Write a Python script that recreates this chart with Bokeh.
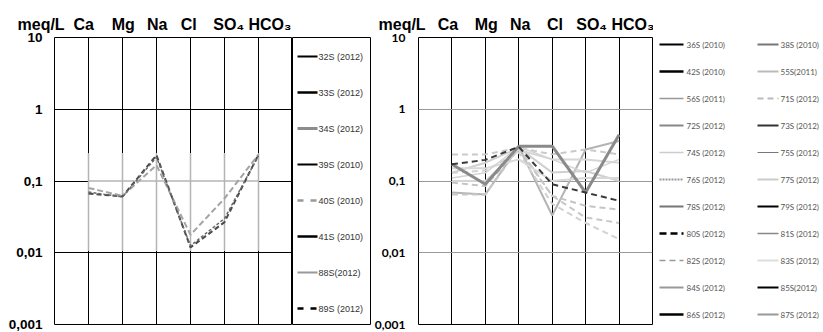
from bokeh.plotting import figure
from bokeh.models import Range1d, FixedTicker, CustomJSTickFormatter
from bokeh.core.properties import value
from bokeh.layouts import row
from bokeh.embed import file_html
from bokeh.resources import INLINE

# ---------------- data ----------------
ION_LABELS = ["Ca", "Mg", "Na", "Cl", "SO\u2084", "HCO\u2083"]
ION_X = [1, 2, 3, 4, 5, 6]
Y_TICKS = [0.001, 0.01, 0.1, 1, 10]
UNIT = "meq/L"

# left diagram (meq/L, order Ca Mg Na Cl SO4 HCO3)
L_89S = [0.0667, 0.061, 0.229, 0.0119, 0.0267, 0.234]
L_40S = [0.080, 0.062, 0.166, 0.0178, 0.057, 0.234]
L_41S = [0.070, 0.060, 0.215, 0.0125, 0.030, 0.225]
LEFT_SERIES = {"89S": L_89S, "40S": L_40S, "41S": L_41S}
LEFT_LABELS = ["32S (2012)", "33S (2012)", "34S (2012)", "39S (2010)",
               "40S (2010)", "41S (2010)", "88S(2012)", "89S (2012)"]

# right diagram
R_78S = [0.171, 0.090, 0.306, 0.306, 0.069, 0.44]
R_80S = [0.171, 0.197, 0.300, 0.090, 0.069, 0.053]
R_71S = [0.235, 0.235, 0.290, 0.235, 0.275, 0.235]
R_56S = [0.069, 0.065, 0.300, 0.033, 0.275, 0.36]
R_82S = [0.095, 0.085, 0.280, 0.062, 0.045, 0.040]
R_83S = [0.130, 0.140, 0.250, 0.048, 0.026, 0.0155]
R_74S = [0.131, 0.180, 0.290, 0.131, 0.138, 0.100]
R_77S = [0.100, 0.100, 0.270, 0.200, 0.200, 0.180]
R_84S = [0.065, 0.065, 0.290, 0.062, 0.031, 0.026]
R_87S = [0.150, 0.150, 0.200, 0.100, 0.110, 0.110]
R_75S = [0.110, 0.130, 0.300, 0.200, 0.130, 0.200]
RIGHT_SERIES = {"71S": R_71S, "56S": R_56S, "82S": R_82S, "83S": R_83S,
                "74S": R_74S, "77S": R_77S, "84S": R_84S, "87S": R_87S,
                "75S": R_75S, "78S": R_78S, "80S": R_80S}
RIGHT_LABELS_COL1 = ["36S (2010)", "42S (2010)", "56S (2011)", "72S (2012)",
                     "74S (2012)", "76S (2012)", "78S (2012)", "80S (2012)",
                     "82S (2012)", "84S (2012)", "86S (2012)"]
RIGHT_LABELS_COL2 = ["38S (2010)", "55S(2011)", "71S (2012)", "73S (2012)",
                     "75S (2012)", "77S (2012)", "79S (2012)", "81S (2012)",
                     "83S (2012)", "85S(2012)", "87S (2012)"]

# ---------------- styles ----------------
LEFT_LINE_STYLE = {
    "89S": dict(line_color="#4a4a4a", line_width=2, line_dash="5 3"),
    "40S": dict(line_color="#a4a4a4", line_width=2, line_dash="6 3"),
    "41S": dict(line_color="#686868", line_width=1.5, line_dash="3 2"),
}
LEFT_LEG_STYLE = [
    dict(line_color="black", line_width=2),
    dict(line_color="black", line_width=2.5),
    dict(line_color="#8c8c8c", line_width=3),
    dict(line_color="black", line_width=2),
    dict(line_color="#999999", line_width=2.5, line_dash="6 7"),
    dict(line_color="black", line_width=2.5),
    dict(line_color="#999999", line_width=2),
    dict(line_color="black", line_width=2.5, line_dash="6 7"),
]
RIGHT_LINE_STYLE = {
    "71S": dict(line_color="#cacaca", line_width=2, line_dash="6 4"),
    "56S": dict(line_color="#b4b4b4", line_width=2),
    "82S": dict(line_color="#c4c4c4", line_width=2, line_dash="6 4"),
    "83S": dict(line_color="#d2d2d2", line_width=2, line_dash="6 4"),
    "74S": dict(line_color="#d0d0d0", line_width=2),
    "77S": dict(line_color="#d6d6d6", line_width=2),
    "84S": dict(line_color="#c8c8c8", line_width=2, line_dash="6 4"),
    "87S": dict(line_color="#d8d8d8", line_width=2),
    "75S": dict(line_color="#d4d4d4", line_width=1.5),
    "78S": dict(line_color="#8a8a8a", line_width=3),
    "80S": dict(line_color="#3a3a3a", line_width=2, line_dash="6 4"),
}
RIGHT_LEG_STYLE_COL1 = [
    dict(line_color="black", line_width=2),
    dict(line_color="black", line_width=2.5),
    dict(line_color="#999999", line_width=1.5),
    dict(line_color="#888888", line_width=2),
    dict(line_color="#cccccc", line_width=1.5),
    dict(line_color="#999999", line_width=2, line_dash="2 1"),
    dict(line_color="#777777", line_width=2),
    dict(line_color="black", line_width=2.5, line_dash="7 4"),
    dict(line_color="#999999", line_width=1.5, line_dash="6 4"),
    dict(line_color="#999999", line_width=2),
    dict(line_color="black", line_width=2.5),
]
RIGHT_LEG_STYLE_COL2 = [
    dict(line_color="#777777", line_width=2),
    dict(line_color="#bbbbbb", line_width=2),
    dict(line_color="#bbbbbb", line_width=2, line_dash="6 4"),
    dict(line_color="#333333", line_width=2),
    dict(line_color="#777777", line_width=1),
    dict(line_color="#cccccc", line_width=2),
    dict(line_color="black", line_width=2),
    dict(line_color="#888888", line_width=1.5),
    dict(line_color="#dddddd", line_width=2),
    dict(line_color="black", line_width=2),
    dict(line_color="#999999", line_width=2),
]

TOP_B = 37
FRAME_H = 287
BOT_B = 8
FIG_H = TOP_B + FRAME_H + BOT_B
SP, TH = "\u00a0", "\u2009"


def header_text(gaps):
    parts = [UNIT]
    for g, lab in zip(gaps, ION_LABELS):
        parts.append(g + lab)
    return "".join(parts)


def make_fig(frame_w, b_left, b_right, hgrid_color, tick_font, tick_size, standoff,
             title, title_off):
    p = figure(width=b_left + frame_w + b_right, height=FIG_H,
               x_range=Range1d(0, 7), y_range=Range1d(0.001, 10),
               y_axis_type="log", output_backend="svg", toolbar_location=None,
               min_border_left=b_left, min_border_right=b_right,
               min_border_top=TOP_B, min_border_bottom=BOT_B)
    p.xaxis.visible = False
    ax = p.yaxis[0]
    ax.ticker = FixedTicker(ticks=Y_TICKS)
    ax.formatter = CustomJSTickFormatter(code="return tick.toString().replace('.', ',')")
    ax.axis_line_color = None
    ax.major_tick_line_color = None
    ax.minor_tick_line_color = None
    ax.major_tick_out = 0
    ax.major_tick_in = 0
    ax.minor_tick_out = 0
    ax.minor_tick_in = 0
    ax.major_label_text_font = tick_font
    ax.major_label_text_font_style = "bold"
    ax.major_label_text_font_size = tick_size
    ax.major_label_text_color = "black"
    ax.major_label_standoff = standoff
    p.xgrid.ticker = FixedTicker(ticks=ION_X)
    p.xgrid.grid_line_color = "black"
    p.ygrid.ticker = FixedTicker(ticks=Y_TICKS)
    p.ygrid.grid_line_color = hgrid_color
    p.outline_line_color = "black"
    p.background_fill_color = "white"
    p.border_fill_color = "white"
    p.title.text = title
    p.title.align = "left"
    p.title.offset = title_off
    p.title.standoff = 10
    p.title.text_font = "Liberation Sans"
    p.title.text_font_size = "16px"
    p.title.text_font_style = "bold"
    p.title.text_color = "black"
    return p


def make_legend_fig(width, outline):
    """blank panel whose data units are pixels measured from the frame's top-left"""
    p = figure(width=width, height=FIG_H,
               x_range=Range1d(0, width - 1), y_range=Range1d(FRAME_H, 0),
               output_backend="svg", toolbar_location=None,
               min_border_left=0, min_border_right=1,
               min_border_top=TOP_B, min_border_bottom=BOT_B)
    p.axis.visible = False
    p.grid.visible = False
    p.outline_line_color = "black" if outline else None
    p.background_fill_color = "white"
    p.border_fill_color = "white"
    return p


def draw_legend_column(p, labels, styles, x0, glyph_w, gap, y0, step, font, size, color):
    ys = [y0 + step * i for i in range(len(labels))]
    for y, st in zip(ys, styles):
        p.segment(x0=[x0], y0=[y], x1=[x0 + glyph_w], y1=[y], **st)
    p.text(x=[x0 + glyph_w + gap] * len(labels), y=ys, text=labels,
           text_font=value(font), text_font_size=size, text_color=color,
           text_baseline="middle", text_align="left")


# ---------------- left diagram ----------------
pl = make_fig(238, 54, 0, "black", "Liberation Sans", "13.5px", 12,
              header_text([SP * 2, SP * 4, SP * 2 + TH, SP * 3, SP * 3 + TH, SP]), -37)

# pasted grey patch over the grid
OV_BOTTOM, OV_TOP = 0.0107, 0.244
pl.quad(left=[ION_X[0]], right=[ION_X[-1]], bottom=[OV_BOTTOM], top=[OV_TOP],
        fill_color="white", line_color=None)
pl.segment(x0=ION_X, y0=[OV_BOTTOM] * 6, x1=ION_X, y1=[OV_TOP] * 6,
           line_color="#b4b4b4", line_width=1.5)
pl.segment(x0=[ION_X[0]], y0=[0.1], x1=[ION_X[-1]], y1=[0.1],
           line_color="#b4b4b4", line_width=1.5)

for name, vals in LEFT_SERIES.items():
    pl.line(ION_X, vals, **LEFT_LINE_STYLE[name])

legl = make_legend_fig(79, True)
draw_legend_column(legl, LEFT_LABELS, LEFT_LEG_STYLE, 5, 20, 1, 19, 36,
                   "Liberation Sans", "9px", "#333333")

# ---------------- right diagram ----------------
pr = make_fig(234, 47, 1, "#999999", "Lato", "12px", 13,
              header_text([SP * 2 + TH, SP * 3 + TH, SP * 2 + TH, SP * 3 + TH, SP * 3, SP]), -40)
for name, vals in RIGHT_SERIES.items():
    pr.line(ION_X, vals, **RIGHT_LINE_STYLE[name])

legr = make_legend_fig(170, False)
draw_legend_column(legr, RIGHT_LABELS_COL1, RIGHT_LEG_STYLE_COL1, 6, 24, 3, 7, 27,
                   "Lato", "8px", "#555555")
draw_legend_column(legr, RIGHT_LABELS_COL2, RIGHT_LEG_STYLE_COL2, 104, 21, 2, 7, 27,
                   "Lato", "8px", "#555555")

layout = row(pl, legl, pr, legr)
open("out.html", "w").write(file_html(layout, INLINE))
